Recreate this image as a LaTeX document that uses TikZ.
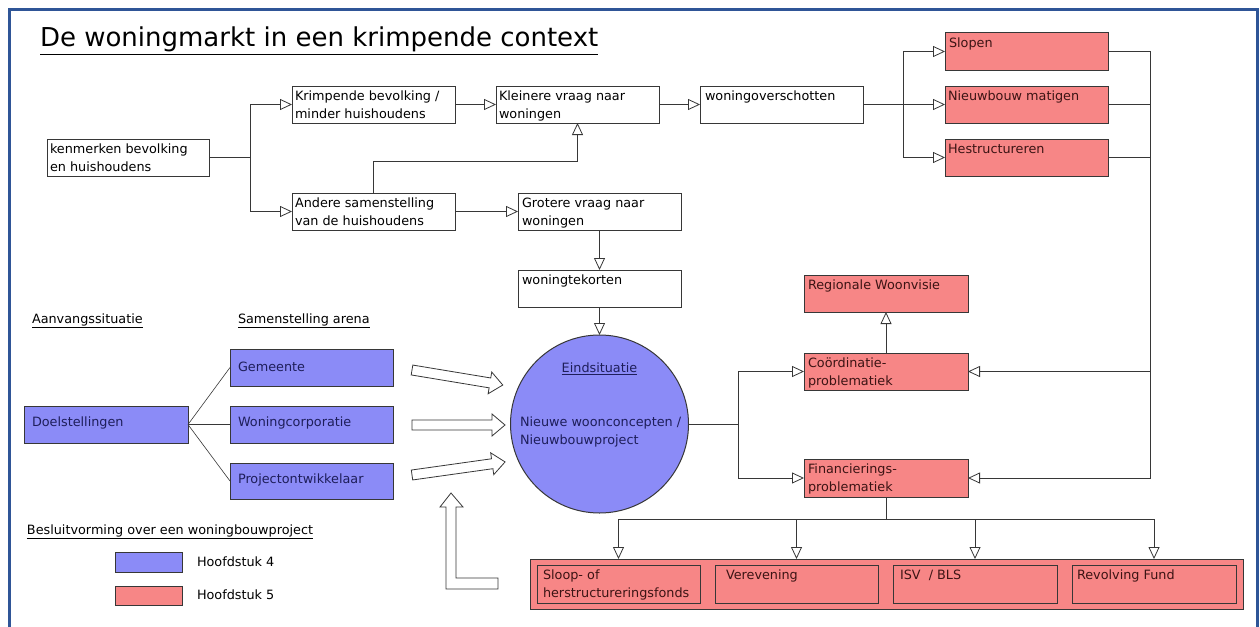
\documentclass[tikz,border=0pt]{standalone}
\usepackage{fontspec}
\setmainfont{DejaVu Sans}
\usetikzlibrary{arrows.meta,calc}
\definecolor{bluef}{RGB}{139,139,247}
\definecolor{redf}{RGB}{247,134,134}
\definecolor{edgec}{RGB}{55,55,55}
\definecolor{framec}{RGB}{47,85,151}
\definecolor{bluetxt}{RGB}{30,30,90}
\definecolor{redtxt}{RGB}{60,20,20}
\newcommand\bodyfont{\fontsize{12.8}{18}\selectfont}
\begin{document}
\begin{tikzpicture}[x=1pt,y=-1pt,
  every node/.style={inner sep=0pt, outer sep=0pt},
  boxbase/.style={draw=edgec, line width=1pt, anchor=north west, minimum width=163pt, minimum height=37pt},
  wbox/.style={boxbase, fill=white},
  bbox/.style={boxbase, fill=bluef},
  rbox/.style={boxbase, fill=redf},
  txt/.style={anchor=north west, align=left, font=\bodyfont, text=black},
  rtxt/.style={txt, text=redtxt},
  btxt/.style={anchor=west, font=\bodyfont, text=bluetxt},
  plain/.style={anchor=west, font=\bodyfont, text=black},
  conn/.style={draw=edgec, line width=0.8pt},
  arr/.style={conn, -{Triangle[open,length=12pt,width=11pt]}},
  blockarrow/.pic={\draw[draw=edgec, fill=white, line width=0.8pt, line join=miter]
     (0,-5) -- (#1-13,-5) -- (#1-13,-11) -- (#1,0) -- (#1-13,11) -- (#1-13,5) -- (0,5) -- cycle;}
]
\useasboundingbox (0,0) rectangle (1260,626);
\fill[white] (0,0) rectangle (1260,626);
\draw[framec, line width=3pt] (9,630) -- (9,10) -- (1257.5,10) -- (1257.5,630);

% title
\node[anchor=base west, font=\fontsize{26}{30}\selectfont] (title) at (40,47) {\underline{De woningmarkt in een krimpende context}};

% white boxes
\node[wbox, minimum width=162pt] (kenm) at (47,139) {};
\node[txt] (kenmT) at ($(kenm.north west)+(3,5)$) {kenmerken bevolking\\en huishoudens};
\node[wbox] (krimp) at (292,86) {};
\node[txt] (krimpT) at ($(krimp.north west)+(3,5)$) {Krimpende bevolking /\\minder huishoudens};
\node[wbox] (andere) at (292,193) {};
\node[txt] (andereT) at ($(andere.north west)+(3,5)$) {Andere samenstelling\\van de huishoudens};
\node[wbox] (klein) at (496,86) {};
\node[txt] (kleinT) at ($(klein.north west)+(3,5)$) {Kleinere vraag naar\\woningen};
\node[wbox] (overs) at (700,86) {};
\node[txt] (oversT) at ($(overs.north west)+(5,5)$) {woningoverschotten};
\node[wbox] (groot) at (518,193) {};
\node[txt] (grootT) at ($(groot.north west)+(4,5)$) {Grotere vraag naar\\woningen};
\node[wbox] (tekort) at (518,270) {};
\node[txt] (tekortT) at ($(tekort.north west)+(4,5)$) {woningtekorten};

% red boxes
\node[rbox] (slopen) at (945,33) {};
\node[rtxt] (slopenT) at ($(slopen.north west)+(4,5)$) {Slopen};
\node[rbox] (nieuw) at (945,86) {};
\node[rtxt] (nieuwT) at ($(nieuw.north west)+(3,5)$) {Nieuwbouw matigen};
\node[rbox] (hestr) at (945,139) {};
\node[rtxt] (hestrT) at ($(hestr.north west)+(3,5)$) {Hestructureren};
\node[rbox, minimum width=164pt] (regio) at (804,275) {};
\node[rtxt] (regioT) at ($(regio.north west)+(4,5)$) {Regionale Woonvisie};
\node[rbox, minimum width=164pt] (coord) at (804,353) {};
\node[rtxt] (coordT) at ($(coord.north west)+(4,5)$) {Coördinatie-\\problematiek};
\node[rbox, minimum width=164pt, minimum height=38pt] (fin) at (804,459) {};
\node[rtxt] (finT) at ($(fin.north west)+(4,5)$) {Financierings-\\problematiek};

% bottom fund boxes
\node[rbox, minimum width=713pt, minimum height=50pt] (big) at (530,559) {};
\node[rbox, minimum height=38pt] (sloop) at (537,565) {};
\node[rtxt] (sloopT) at ($(sloop.north west)+(6,5)$) {Sloop- of\\herstructureringsfonds};
\node[rbox, minimum height=38pt] (verev) at (715,565) {};
\node[rtxt] (verevT) at ($(verev.north west)+(11,5)$) {Verevening};
\node[rbox, minimum width=164pt, minimum height=38pt] (isv) at (893,565) {};
\node[rtxt] (isvT) at ($(isv.north west)+(7,5)$) {ISV\ \ / BLS};
\node[rbox, minimum width=164pt, minimum height=38pt] (revol) at (1072,565) {};
\node[rtxt] (revolT) at ($(revol.north west)+(5,5)$) {Revolving Fund};

% blue boxes
\node[bbox, minimum width=164pt] (doel) at (24,406) {};
\node[btxt] (doelT) at ($(doel.west)+(8,-2)$) {Doelstellingen};
\node[bbox] (gem) at (230,349) {};
\node[btxt] (gemT) at ($(gem.west)+(8,-1)$) {Gemeente};
\node[bbox] (woco) at (230,406) {};
\node[btxt] (wocoT) at ($(woco.west)+(8,-2)$) {Woningcorporatie};
\node[bbox, minimum height=36pt] (proj) at (230,463) {};
\node[btxt] (projT) at ($(proj.west)+(8,-1)$) {Projectontwikkelaar};

% circle
\node[circle, draw=edgec, line width=1pt, fill=bluef, minimum size=178pt] (eind) at (599.5,424) {};
\node[anchor=center, font=\bodyfont, text=bluetxt] (eindT) at (599.5,369) {\underline{Eindsituatie}};
\node[txt, text=bluetxt] (eindT2) at (520,417) {Nieuwe woonconcepten /\\Nieuwbouwproject};

% headings and legend
\node[plain] (aanv) at (32,321) {\underline{Aanvangssituatie}};
\node[plain] (arena) at (238,321) {\underline{Samenstelling arena}};
\node[plain] (besl) at (27,532) {\underline{Besluitvorming over een woningbouwproject}};
\node[draw=edgec, line width=1pt, fill=bluef, anchor=north west, minimum width=67pt, minimum height=20pt] (legb) at (115,552) {};
\node[plain] (legbT) at (197,562) {Hoofdstuk 4};
\node[draw=edgec, line width=1pt, fill=redf, anchor=north west, minimum width=67pt, minimum height=19pt] (legr) at (115,586) {};
\node[plain] (legrT) at (197,595) {Hoofdstuk 5};

% connectors top
\coordinate (j1) at (250,157.5);
\draw[conn] (kenm.east) -- (j1);
\draw[arr] (j1) |- (krimp.west);
\draw[arr] (j1) |- (andere.west);
\draw[arr] (krimp.east) -- (klein.west);
\draw[arr] (andere.east) -- (groot.west);
\draw[arr] (andere.north) -- ++(0,-32) -| (klein.south);
\draw[arr] (klein.east) -- (overs.west);
\coordinate (j2) at (903,104.5);
\draw[conn] (overs.east) -- (j2);
\draw[arr] (j2) |- (slopen.west);
\draw[arr] (j2) -- (nieuw.west);
\draw[arr] (j2) |- (hestr.west);
\coordinate (j5) at (1150,51.5);
\draw[conn] (slopen.east) -- (j5);
\draw[conn] (nieuw.east) -- (nieuw.east -| j5);
\draw[conn] (hestr.east) -- (hestr.east -| j5);
\draw[arr] (j5) |- (coord.east);
\draw[arr] (j5) |- (fin.east);
\draw[arr] (groot.south) -- (tekort.north);
\draw[arr] (tekort.south) -- (eind.north);
\coordinate (j3) at (738,424);
\draw[conn] (eind.east) -- (j3);
\draw[arr] (j3) |- (coord.west);
\draw[arr] (j3) |- (fin.west);
\draw[arr] (coord.north) -- (regio.south);
\coordinate (j4) at ($(fin.south)+(0,22)$);
\draw[conn] (fin.south) -- (j4);
\draw[arr] (j4) -| (sloop.north |- big.north);
\draw[arr] (j4) -| (verev.north |- big.north);
\draw[arr] (j4) -| (isv.north |- big.north);
\draw[arr] (j4) -| (revol.north |- big.north);

% Doelstellingen links
\draw[edgec, line width=0.6pt] (doel.east) -- (gem.west);
\draw[edgec, line width=0.6pt] (doel.east) -- (woco.west);
\draw[edgec, line width=0.6pt] (doel.east) -- (proj.west);

% block arrows
\pic[rotate=-9.4] at (412,370) {blockarrow=92};
\pic at (412,425) {blockarrow=93};
\pic[rotate=8] at (412,475) {blockarrow=94};
\draw[draw=edgec, fill=white, line width=0.8pt] (451,493) -- (463,507) -- (456,507) -- (456,578) -- (498,578) -- (498,589) -- (446,589) -- (446,507) -- (440,507) -- cycle;
\end{tikzpicture}
\end{document}
